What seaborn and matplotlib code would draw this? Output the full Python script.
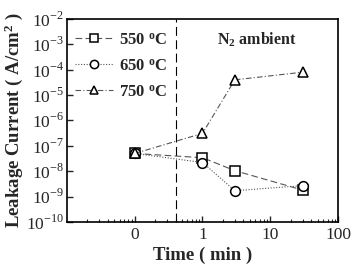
import seaborn as sns
import pandas as pd
import matplotlib.pyplot as plt
import matplotlib.ticker as mticker

# data (time 0 is drawn at the 0.1 decade, as in the original)
time_min = [0, 1, 3, 30]
leak_550 = [5.0e-8, 3.4e-8, 1.05e-8, 1.8e-9]
leak_650 = [5.0e-8, 2.2e-8, 1.7e-9, 2.7e-9]
leak_750 = [5.0e-8, 3.1e-7, 4.0e-5, 8.0e-5]
labels = ["550 $\\mathbf{^oC}$", "650 $\\mathbf{^oC}$", "750 $\\mathbf{^oC}$"]
xtick_labels = ["0", "1", "10", "100"]

zero_pos = 0.1
xpos = [zero_pos if t == 0 else t for t in time_min]

df = pd.DataFrame({
    "x": xpos * 3,
    "y": leak_550 + leak_650 + leak_750,
    "series": [labels[0]] * 4 + [labels[1]] * 4 + [labels[2]] * 4,
})

sns.set_theme(style="ticks")
plt.rcParams["font.family"] = ["Liberation Serif", "DejaVu Serif"]
plt.rcParams["mathtext.fontset"] = "custom"
plt.rcParams["mathtext.rm"] = "Liberation Serif"
plt.rcParams["mathtext.bf"] = "Liberation Serif:bold"

fig = plt.figure(figsize=(3.54, 2.68), dpi=100)
ax = fig.add_axes([0.189, 0.172, 0.766, 0.757])

styles = [("s", (0, (6, 3))), ("o", (0, (1, 1.5))), ("^", (0, (5, 2, 1, 2)))]
for lab, (mk, ls) in zip(labels, styles):
    sns.lineplot(data=df[df.series == lab], x="x", y="y", ax=ax, label=lab,
                 color="#555555", linewidth=0.8, linestyle=ls, marker=mk,
                 markersize=7, markerfacecolor="white", markeredgecolor="black",
                 markeredgewidth=1.1)

ax.set_xscale("log")
ax.set_yscale("log")
ax.set_xlim(0.01, 100)
ax.set_ylim(1e-10, 1e-2)
ax.axvline(0.4, color="black", linestyle=(0, (8, 4)), linewidth=0.8)

ax.set_xticks([0.1, 1, 10, 100])
ax.set_xticklabels(xtick_labels)
ax.xaxis.set_minor_locator(mticker.LogLocator(base=10, subs=range(2, 10), numticks=20))
ax.xaxis.set_minor_formatter(mticker.NullFormatter())
ax.set_yticks([10.0 ** e for e in range(-10, -1)])
ax.set_yticklabels([f"$10^{{{e}}}$" for e in range(-10, -1)])
ax.yaxis.set_minor_locator(mticker.NullLocator())
ax.tick_params(axis="both", which="both", direction="in", labelsize=12.5, top=False, right=False)
ax.tick_params(axis="both", which="major", length=4, width=1, pad=2)
ax.tick_params(axis="x", which="major", pad=4)
ax.tick_params(axis="x", which="minor", length=2, width=0.8)
for s in ax.spines.values():
    s.set_linewidth(1.2)
    s.set_color("black")

ax.set_xlabel("Time ( min )", fontsize=13.5, fontweight="bold", labelpad=2)
ax.set_ylabel("Leakage Current ( A/cm$\\mathbf{^2}$ )", fontsize=13.5, fontweight="bold", labelpad=1)
ax.text(0.70, 0.9, "N$\\mathbf{_2}$ ambient", transform=ax.transAxes, fontsize=11.5,
        fontweight="bold", ha="center", va="center")

leg = ax.legend(loc="upper left", bbox_to_anchor=(0.03, 0.935), frameon=False,
                borderaxespad=0, borderpad=0, handlelength=2.3, labelspacing=0.6,
                handletextpad=0.35, markerscale=0.85,
                prop={"weight": "bold", "size": 12})

fig.savefig("out.png", dpi=100)
